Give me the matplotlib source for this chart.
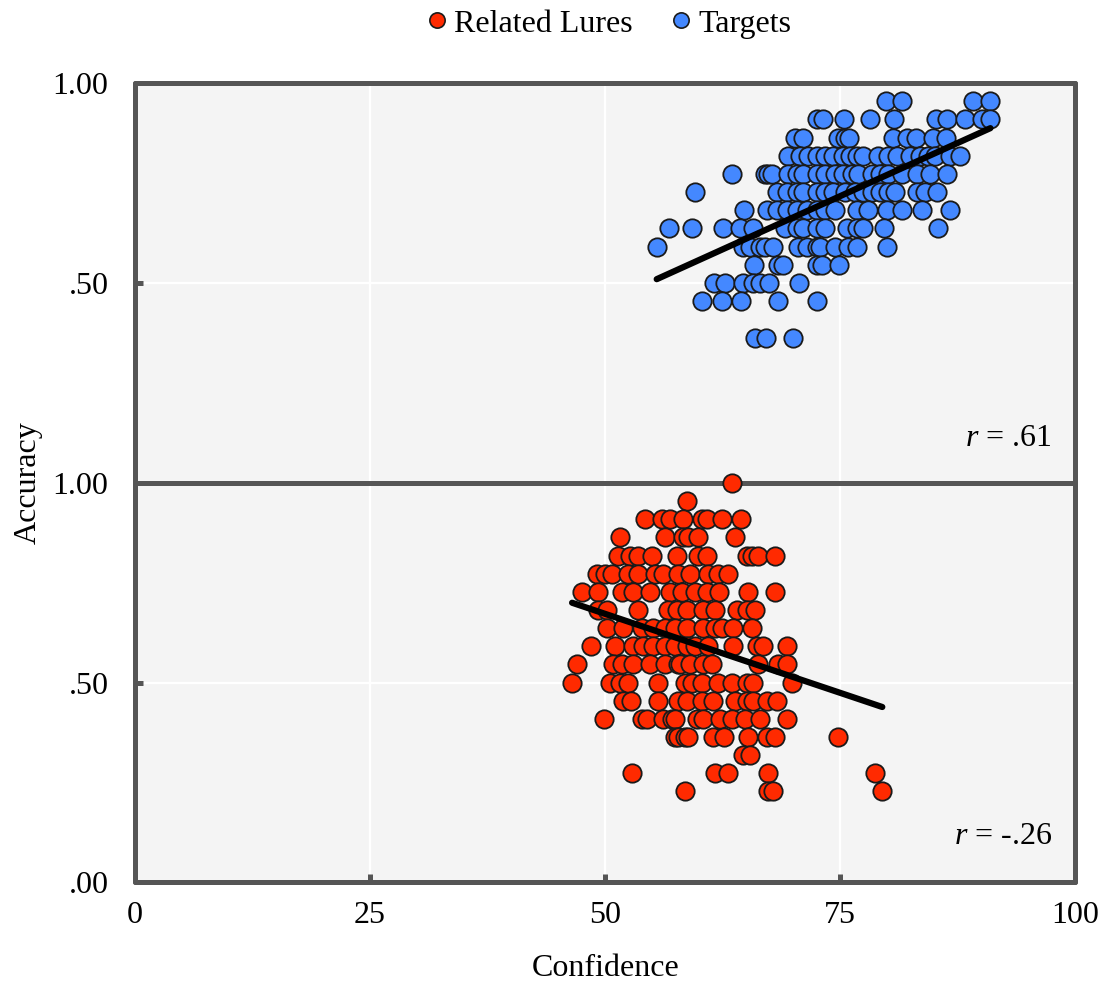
import numpy as np
import matplotlib
matplotlib.use("Agg")
import matplotlib.pyplot as plt
from matplotlib.lines import Line2D

plt.rcParams['font.family'] = ['Liberation Serif', 'DejaVu Serif']
plt.rcParams['mathtext.fontset'] = 'custom'
plt.rcParams['mathtext.it'] = 'Liberation Serif:italic'
plt.rcParams['mathtext.rm'] = 'Liberation Serif'

# Accuracy is quantised in steps of 1/22; values are listed per accuracy level (k/22)
# Targets: confidence values per accuracy level k
targets_by_level = {
    21: [79.9, 81.6, 89.1, 91.0],
    20: [72.6, 73.2, 75.4, 78.2, 80.7, 85.2, 86.4, 88.3, 90.1, 91.0],
    19: [70.2, 71.1, 74.8, 75.5, 76.0, 80.6, 82.1, 83.1, 84.9, 86.3],
    18: [69.5, 70.7, 71.6, 72.6, 73.4, 74.3, 75.3, 76.1, 76.8, 77.4, 79.0, 80.1,
         81.1, 82.4, 83.5, 84.4, 85.1, 86.7, 87.8],
    17: [63.5, 67.0, 67.3, 67.8, 69.5, 70.4, 71.1, 72.6, 73.4, 74.5, 75.3, 76.3,
         76.9, 78.4, 79.3, 80.1, 81.6, 83.2, 84.6, 86.4],
    16: [59.6, 68.3, 69.4, 70.4, 71.1, 72.6, 73.4, 74.3, 75.5, 76.6, 77.4, 78.4,
         79.3, 80.1, 80.9, 83.2, 84.0, 85.3],
    15: [64.8, 67.2, 68.3, 69.4, 70.4, 71.5, 72.6, 73.4, 74.5, 76.8, 78.0, 80.0,
         81.6, 83.7, 86.7],
    14: [56.8, 59.3, 62.6, 64.4, 65.7, 69.1, 70.4, 71.1, 72.6, 73.4, 75.7, 76.8,
         77.4, 79.7, 85.4],
    13: [55.5, 64.7, 65.4, 66.5, 67.0, 67.9, 70.5, 71.5, 72.6, 72.9, 74.5, 75.9,
         76.8, 80.0],
    12: [65.9, 68.4, 68.9, 72.6, 73.1, 74.9],
    11: [61.6, 62.8, 64.7, 65.7, 66.5, 67.4, 70.6],
    10: [60.3, 62.4, 64.5, 68.4, 72.6],
    8: [66.0, 67.1, 70.0],
}

# Related lures: confidence values per accuracy level k
lures_by_level = {
    22: [63.5],
    21: [58.7],
    20: [54.3, 56.1, 56.9, 58.3, 60.3, 60.9, 62.4, 64.5],
    19: [51.6, 56.4, 58.3, 58.8, 59.9, 63.8],
    18: [51.4, 52.7, 53.5, 55.0, 57.7, 59.9, 60.9, 65.1, 65.6, 66.3, 68.1],
    17: [49.1, 50.0, 50.7, 52.4, 53.5, 55.3, 56.2, 57.8, 59.0, 61.0, 62.0, 63.1],
    16: [47.6, 49.3, 51.8, 53.0, 54.8, 56.9, 58.2, 59.6, 60.9, 62.1, 65.2, 68.1],
    15: [49.3, 50.2, 53.5, 56.7, 57.7, 58.7, 60.4, 61.7, 64.0, 65.1, 66.0],
    14: [50.2, 51.9, 53.9, 55.1, 56.4, 57.4, 58.7, 60.4, 61.7, 62.4, 63.6, 65.6],
    13: [48.5, 51.1, 53.0, 54.0, 55.1, 56.4, 57.4, 58.7, 59.6, 61.0, 63.6, 66.2,
         66.8, 69.4],
    12: [47.0, 50.9, 51.8, 53.0, 54.8, 56.4, 57.8, 58.0, 59.0, 60.4, 61.4, 66.3,
         68.4, 69.4],
    11: [46.5, 50.5, 51.6, 52.4, 55.6, 58.5, 59.3, 60.3, 62.0, 63.5, 65.1, 65.7, 69.9],
    10: [51.9, 52.8, 55.6, 57.8, 58.7, 60.3, 61.5, 63.8, 65.1, 65.7, 67.2, 68.3],
    9: [49.9, 53.9, 54.5, 56.2, 57.1, 57.4, 59.8, 60.4, 62.2, 63.5, 64.9, 66.5, 69.4],
    8: [57.4, 57.8, 58.5, 58.8, 61.5, 62.7, 65.2, 67.2, 68.1, 74.8],
    7: [64.7, 65.4],
    6: [52.9, 61.7, 63.1, 67.3, 78.7],
    5: [58.5, 67.3, 67.9, 79.5],
}

n_items = 22
series_labels = ["Related Lures", "Targets"]
r_labels = ["$r$ = .61", "$r$ = -.26"]
x_ticks = [0, 25, 50, 75, 100]
x_ticklabels = ["0", "25", "50", "75", "100"]
y_ticks_bottom = [0.0, 0.5, 1.0]
y_ticklabels_bottom = [".00", ".50", "1.00"]
y_ticks_top = [0.5, 1.0]
y_ticklabels_top = [".50", "1.00"]

red = "#ff2a00"
blue = "#4488ff"
frame = "#555555"
bg = "#f4f4f4"


def flatten(d):
    xs, ys = [], []
    for k, vals in d.items():
        for v in vals:
            xs.append(v)
            ys.append(k / n_items)
    return np.array(xs), np.array(ys)


tx, ty = flatten(targets_by_level)
lx, ly = flatten(lures_by_level)

fig = plt.figure(figsize=(11.05, 9.85), dpi=100)
W, H = 1105, 985
left, right = 135, 1075
ax_top = fig.add_axes([left / W, 1 - 483 / H, (right - left) / W, 400 / H])
ax_bot = fig.add_axes([left / W, 1 - 882 / H, (right - left) / W, 399 / H])

fs = 23


def style(ax):
    ax.set_facecolor(bg)
    ax.set_xlim(0, 100)
    ax.set_ylim(0, 1)
    for s in ax.spines.values():
        s.set_color(frame)
        s.set_linewidth(3.6)
        s.set_capstyle('round')
    ax.grid(True, color="white", linewidth=1.6)
    ax.set_axisbelow(True)
    ax.set_xticks(x_ticks)
    ax.tick_params(direction='in', length=6, width=3.6, color=frame,
                   labelsize=fs, pad=19)


style(ax_top)
style(ax_bot)

ax_top.set_yticks(y_ticks_top)
ax_top.set_yticklabels(y_ticklabels_top)
ax_top.tick_params(axis='x', length=0, labelbottom=False)
ax_bot.set_yticks(y_ticks_bottom)
ax_bot.set_yticklabels(y_ticklabels_bottom)
ax_bot.set_xticklabels(x_ticklabels)
ax_bot.tick_params(axis='x', pad=14)

ms = 175
ax_top.scatter(tx, ty, s=ms, color=blue, edgecolor="#1a1a1a", linewidth=1.3,
               zorder=3, clip_on=False)
ax_bot.scatter(lx, ly, s=ms, color=red, edgecolor="#1a1a1a", linewidth=1.3,
               zorder=3, clip_on=False)

for ax, x, y in [(ax_top, tx, ty), (ax_bot, lx, ly)]:
    m, b = np.polyfit(x, y, 1)
    xx = np.array([x.min(), x.max()])
    ax.plot(xx, m * xx + b, color="black", linewidth=4.5, solid_capstyle='round',
            zorder=4)

ax_top.text(0.9755, 0.11, r_labels[0], transform=ax_top.transAxes,
            ha='right', va='center', fontsize=fs)
ax_bot.text(0.9755, 0.115, r_labels[1], transform=ax_bot.transAxes,
            ha='right', va='center', fontsize=fs)

fig.text(28 / W, 1 - 483 / H, "Accuracy", rotation=90, ha='center', va='center',
         fontsize=fs)
fig.text(606 / W, 1 - 968 / H, "Confidence", ha='center', va='center', fontsize=fs)

handles = [Line2D([], [], marker='o', linestyle='none', markersize=11,
                  markerfacecolor=red, markeredgecolor="#1a1a1a", markeredgewidth=1.2),
           Line2D([], [], marker='o', linestyle='none', markersize=11,
                  markerfacecolor=blue, markeredgecolor="#1a1a1a", markeredgewidth=1.2)]
fig.legend(handles, series_labels, loc='center', bbox_to_anchor=(606 / W, 1 - 24 / H),
           ncol=2, frameon=False, fontsize=fs, handletextpad=0.05,
           columnspacing=1.0, handlelength=1.0)

fig.savefig("out.png", dpi=100)
